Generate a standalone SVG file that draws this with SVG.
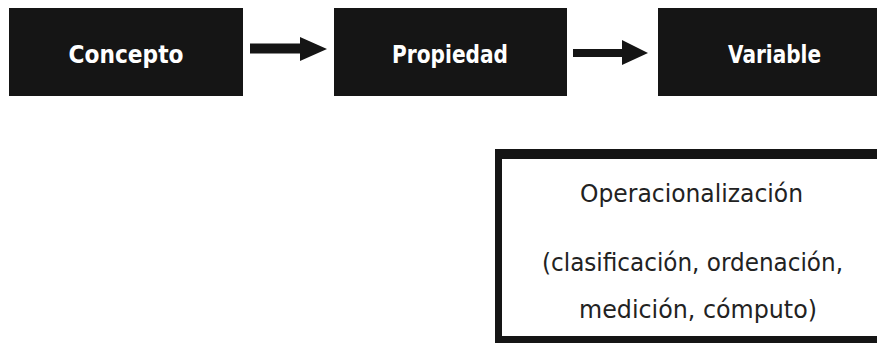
<svg xmlns="http://www.w3.org/2000/svg" width="877" height="343" viewBox="0 0 877 343">
<style>
.box{fill:#151515}
.lbl{font-family:"DejaVu Sans","Liberation Sans",sans-serif;font-weight:bold;font-size:25px;fill:#ffffff;text-anchor:middle}
.op{font-family:"DejaVu Sans","Liberation Sans",sans-serif;font-size:24px;fill:#222222;text-anchor:middle}
.arr{fill:#151515}
</style>
<rect width="877" height="343" fill="#ffffff"/>
<g id="concepto">
<rect class="box" x="9" y="8" width="234" height="88"/>
<text class="lbl" x="126" y="63" textLength="115" lengthAdjust="spacingAndGlyphs">Concepto</text>
</g>
<g id="propiedad">
<rect class="box" x="334" y="8" width="233" height="88"/>
<text class="lbl" x="450" y="63" textLength="116" lengthAdjust="spacingAndGlyphs">Propiedad</text>
</g>
<g id="variable">
<rect class="box" x="658" y="8" width="233" height="88"/>
<text class="lbl" x="774.5" y="63" textLength="93" lengthAdjust="spacingAndGlyphs">Variable</text>
</g>
<g id="operacionalizacion">
<path class="box" fill-rule="evenodd" d="M495 149H890V343H495Z M502 159V336H890V159Z"/>
<text class="op" x="691.5" y="202" textLength="223" lengthAdjust="spacingAndGlyphs">Operacionalización</text>
<text class="op" x="692.5" y="271" textLength="301" lengthAdjust="spacingAndGlyphs">(clasificación, ordenación,</text>
<text class="op" x="698" y="318" textLength="238" lengthAdjust="spacingAndGlyphs">medición, cómputo)</text>
</g>
<g id="connectors">
<polygon class="arr" points="250,43.5 300,43.5 300,37 327,49 300,61 300,53.5 250,53.5"/>
<polygon class="arr" points="573,49 622,49 622,40 648,53 622,65 622,57 573,57"/>
</g>
</svg>
